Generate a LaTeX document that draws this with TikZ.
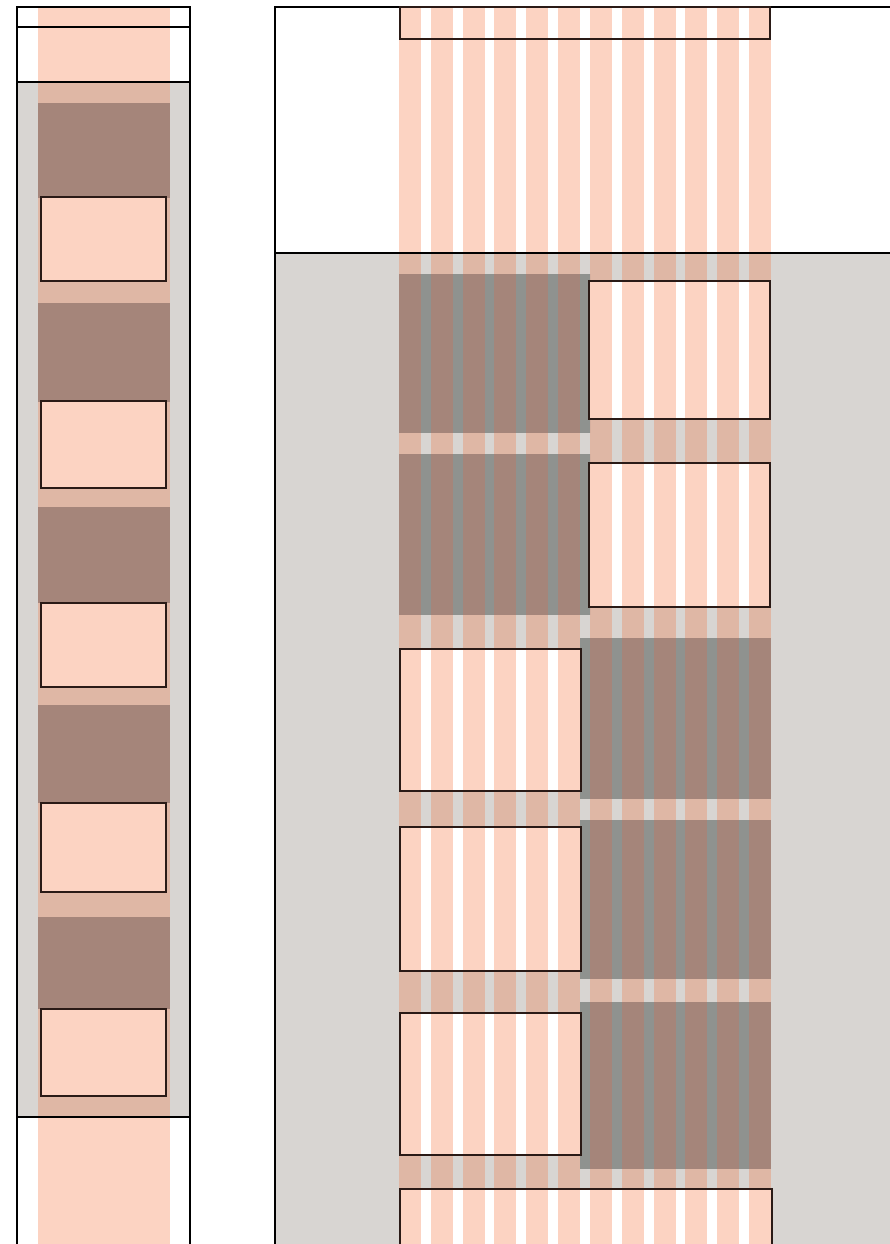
\documentclass[tikz,border=0pt]{standalone}
\definecolor{panelgray}{HTML}{D8D5D2}
\definecolor{salmon}{HTML}{FCD3C2}
\definecolor{salmondim}{HTML}{DFB7A5}
\definecolor{brownblk}{HTML}{A5857A}
\definecolor{darkgap}{HTML}{8F928F}
\definecolor{edge}{HTML}{2A1A16}
\tikzset{
  frame/.style={draw=black,line width=1.8pt},
  boxline/.style={draw=edge,line width=1.8pt},
}
\newcommand{\stripesfill}[3]{%
  \foreach \i in {0,...,11}{\fill[#1] ({399+\i*31.82},#2) rectangle ({421+\i*31.82},#3);}}
\newcommand{\darkblock}[4]{%
  \begin{scope}
    \clip (#1,#2) rectangle (#3,#4);
    \fill[darkgap] (#1,#2) rectangle (#3,#4);
    \stripesfill{brownblk}{#2}{#4}
  \end{scope}}
\newcommand{\stripedbox}[4]{%
  \begin{scope}
    \clip (#1,#2) rectangle (#3,#4);
    \fill[white] (#1,#2) rectangle (#3,#4);
    \stripesfill{salmon}{#2}{#4}
  \end{scope}
  \draw[boxline] (#1,#2) rectangle (#3,#4);}
\begin{document}
\begin{tikzpicture}[x=1pt,y=-1pt]
\useasboundingbox (0,0) rectangle (890,1244);
\fill[white] (0,0) rectangle (890,1244);
% ---------- left panel ----------
\fill[panelgray] (17,82) rectangle (190,1117);
\fill[salmon] (38,7) rectangle (170,82);
\fill[salmon] (38,1117) rectangle (170,1244);
\fill[salmondim] (38,82) rectangle (170,1117);
\foreach \a/\b in {103/198,303/402,507/603,705/803,917/1009}
  \fill[brownblk] (38,\a) rectangle (170,\b);
\foreach \a/\b in {197/281,401/488,603/687,803/892,1009/1096}
  \draw[boxline,fill=salmon] (41,\a) rectangle (166,\b);
\draw[frame] (17,1244) -- (17,7) -- (190,7) -- (190,1244);
\draw[frame] (17,27) -- (190,27);
\draw[frame] (17,82) -- (190,82);
\draw[frame] (17,1117) -- (190,1117);
% ---------- right panel ----------
\fill[panelgray] (275,253) rectangle (890,1244);
\stripesfill{salmon}{7}{253}
\stripesfill{salmondim}{253}{1244}
\darkblock{399}{274}{590}{433}
\darkblock{399}{454}{590}{615}
\darkblock{580}{638}{771}{799}
\darkblock{580}{820}{771}{979}
\darkblock{580}{1002}{771}{1169}
\stripedbox{589}{281}{770}{419}
\stripedbox{589}{463}{770}{607}
\stripedbox{400}{649}{581}{791}
\stripedbox{400}{827}{581}{971}
\stripedbox{400}{1013}{581}{1155}
\stripedbox{400}{1189}{772}{1252}
\draw[frame] (275,1244) -- (275,7) -- (890,7);
\draw[frame] (275,253) -- (890,253);
\draw[boxline] (400,7) rectangle (770,39);
\end{tikzpicture}
\end{document}
